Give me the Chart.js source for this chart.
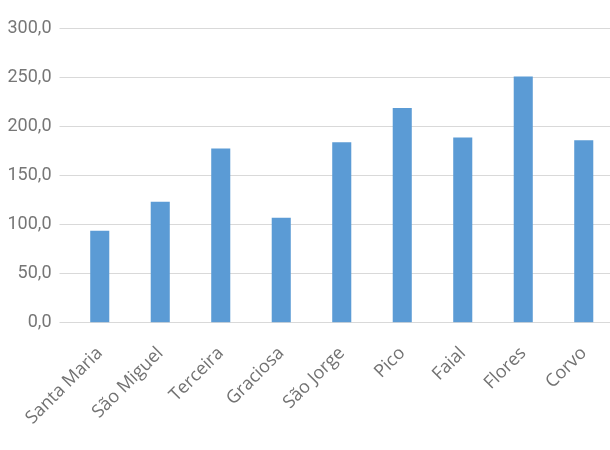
<!DOCTYPE html>
<html>
<head>
<meta charset="utf-8">
<script src="https://cdn.jsdelivr.net/npm/chart.js@4/dist/chart.umd.min.js"></script>
<style>
  html, body { margin: 0; padding: 0; background: #fff; overflow: hidden; }
  #wrap { position: absolute; left: 0; top: 0; width: 614px; height: 450px; }
</style>
</head>
<body>
<div id="wrap"><canvas id="c"></canvas></div>
<script>
const categories = ["Santa Maria", "São Miguel", "Terceira", "Graciosa", "São Jorge", "Pico", "Faial", "Flores", "Corvo"];
const values = [93.5, 123.0, 177.3, 106.8, 183.6, 218.5, 188.5, 250.7, 185.8];
const yMin = 0;
const yMax = 300;
const yStep = 50;

new Chart(document.getElementById('c'), {
  type: 'bar',
  data: {
    labels: categories,
    datasets: [{
      data: values,
      backgroundColor: '#5b9bd5',
      borderWidth: 0,
      categoryPercentage: 1,
      barPercentage: 0.315
    }]
  },
  options: {
    responsive: true,
    maintainAspectRatio: false,
    animation: false,
    layout: { padding: { top: 28, right: 0, left: 0, bottom: 0 } },
    plugins: { legend: { display: false }, tooltip: { enabled: false }, title: { display: false } },
    scales: {
      x: {
        grid: { display: false },
        border: { display: true, color: '#d9d9d9', width: 1 },
        ticks: {
          color: '#727272',
          font: { family: '"Open Sans", sans-serif', size: 18 },
          minRotation: 45, maxRotation: 45,
          padding: 12,
          autoSkip: false
        },
        afterFit: (s) => { s.height = 127.3; }
      },
      y: {
        min: yMin, max: yMax,
        grid: { color: '#d9d9d9', lineWidth: 1, tickLength: 10, tickColor: '#d9d9d9' },
        border: { display: false },
        ticks: {
          stepSize: yStep,
          color: '#767676',
          padding: 8,
          font: { family: 'Roboto, sans-serif', size: 18 },
          callback: (v) => v.toFixed(1).replace('.', ',')
        },
        afterFit: (s) => { s.width = 69.5; }
      }
    }
  }
});
</script>
</body>
</html>
